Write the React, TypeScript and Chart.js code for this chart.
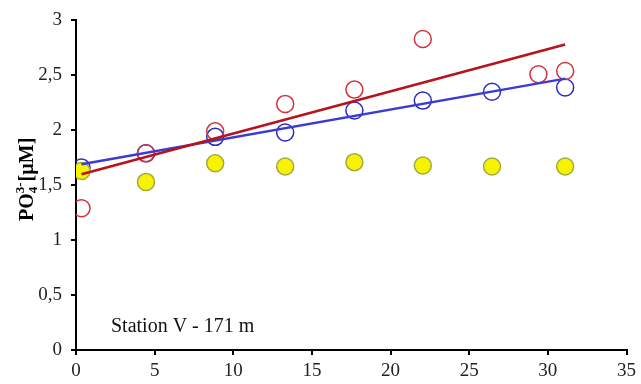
import React, { useEffect, useRef } from "react";
import { Chart, registerables } from "chart.js";

Chart.register(...registerables);

// Time / sample positions (x) and PO4 concentrations (y, µM)
const xAll = [0.35, 4.45, 8.85, 13.3, 17.7, 22.05, 26.45, 31.1];
const yellowVals = [1.63, 1.53, 1.7, 1.67, 1.71, 1.68, 1.67, 1.67];
const blueVals = [1.66, 1.79, 1.94, 1.98, 2.18, 2.27, 2.35, 2.39];
const redX = [0.35, 4.45, 8.85, 13.3, 17.7, 22.05, 29.4, 31.1];
const redVals = [1.29, 1.79, 1.99, 2.24, 2.37, 2.83, 2.51, 2.54];
// Linear trend lines (endpoints)
const trendX = [0.35, 31.1];
const redTrend = [1.6, 2.78];
const blueTrend = [1.69, 2.47];

const stationLabel = "Station V - 171 m";

const toPts = (xs: number[], ys: number[]) => xs.map((x, i) => ({ x, y: ys[i] }));

const SERIF = "'Liberation Serif', 'Times New Roman', serif";

const annotPlugin = {
  id: "annot",
  afterDraw(chart: any) {
    const ctx = chart.ctx as CanvasRenderingContext2D;
    ctx.save();
    // Station label
    ctx.fillStyle = "#111";
    ctx.font = `20px ${SERIF}`;
    ctx.textBaseline = "alphabetic";
    ctx.textAlign = "left";
    ctx.fillText(stationLabel, 111, 332);
    ctx.restore();

    // Y axis title: PO4 3-[µM]
    ctx.save();
    ctx.translate(33, 221);
    ctx.rotate(-Math.PI / 2);
    ctx.fillStyle = "#000";
    ctx.textBaseline = "alphabetic";
    ctx.textAlign = "left";
    let x = 0;
    const big = `bold 20px ${SERIF}`;
    const small = `bold 13px ${SERIF}`;
    ctx.font = big;
    ctx.fillText("PO", x, 0);
    x += ctx.measureText("PO").width;
    ctx.font = small;
    ctx.fillText("4", x, 4);
    const wSub = ctx.measureText("4").width;
    ctx.fillText("3-", x, -9);
    const wSup = ctx.measureText("3-").width;
    x += Math.max(wSub, wSup) + 1;
    ctx.font = big;
    ctx.fillText("[µM]", x, 0);
    ctx.restore();
  },
};

export default function App() {
  const ref = useRef<HTMLCanvasElement | null>(null);
  useEffect(() => {
    if (!ref.current) return;
    const chart = new Chart(ref.current, {
      type: "scatter",
      data: {
        datasets: [
          {
            label: "red trend",
            data: toPts(trendX, redTrend),
            showLine: true,
            borderColor: "#b8121c",
            borderWidth: 2.5,
            pointRadius: 0,
            fill: false,
          },
          {
            label: "blue trend",
            data: toPts(trendX, blueTrend),
            showLine: true,
            borderColor: "#3b3bd4",
            borderWidth: 2.5,
            pointRadius: 0,
            fill: false,
          },
          {
            label: "red",
            data: toPts(redX, redVals),
            pointRadius: 8.5,
            pointBorderWidth: 1.5,
            pointBorderColor: "#d3343c",
            pointBackgroundColor: "rgba(255,255,255,0)",
            showLine: false,
          },
          {
            label: "yellow",
            data: toPts(xAll, yellowVals),
            pointRadius: 8.5,
            pointBorderWidth: 1.5,
            pointBorderColor: "#a3ab3c",
            pointBackgroundColor: "#f6f200",
            showLine: false,
          },
          {
            label: "blue",
            data: toPts(xAll, blueVals),
            pointRadius: 8.5,
            pointBorderWidth: 1.5,
            pointBorderColor: "#2c2cbc",
            pointBackgroundColor: "rgba(255,255,255,0)",
            showLine: false,
          },
        ],
      },
      options: {
        responsive: false,
        animation: false,
        layout: { padding: { top: 15, right: 12, left: 0, bottom: 0 } },
        plugins: { legend: { display: false }, tooltip: { enabled: false } },
        scales: {
          x: {
            type: "linear",
            min: 0,
            max: 35,
            afterFit: (s: any) => {
              s.height = 34;
            },
            ticks: {
              stepSize: 5,
              color: "#222",
              font: { family: SERIF, size: 19 },
              padding: 5,
            },
            grid: {
              display: true,
              drawOnChartArea: false,
              drawTicks: true,
              tickLength: 5,
              color: "#000",
              lineWidth: 2,
            },
            border: { display: true, color: "#000", width: 2 },
          },
          y: {
            type: "linear",
            min: 0,
            max: 3,
            afterFit: (s: any) => {
              s.width = 76;
            },
            ticks: {
              stepSize: 0.5,
              color: "#222",
              font: { family: SERIF, size: 19 },
              padding: 9,
              callback: (v: any) => String(v).replace(".", ","),
            },
            grid: {
              display: true,
              drawOnChartArea: false,
              drawTicks: true,
              tickLength: 5,
              color: "#000",
              lineWidth: 2,
            },
            border: { display: true, color: "#000", width: 2 },
          },
        },
      },
      plugins: [annotPlugin],
    } as any);
    return () => chart.destroy();
  }, []);
  return (
    <div style={{ position: "fixed", left: 0, top: 0, width: 641, height: 384, background: "#fff" }}>
      <canvas ref={ref} width={641} height={384} style={{ width: 641, height: 384 }} />
    </div>
  );
}
